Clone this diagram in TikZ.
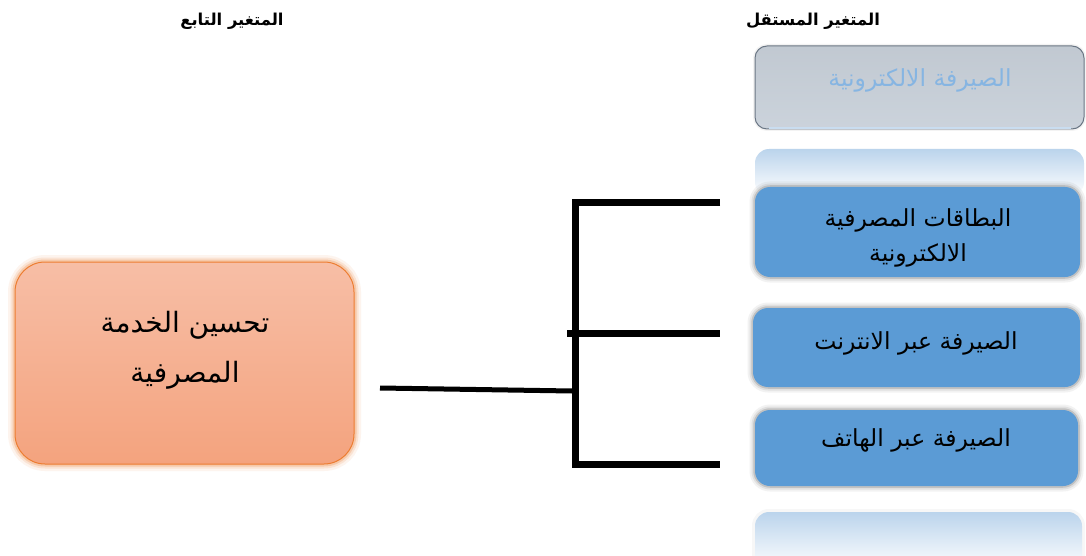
\documentclass[tikz,border=0pt]{standalone}
\usepackage{fontspec}
\newfontfamily\arabicfont[Script=Arabic]{DejaVu Sans}
\TeXXeTstate=1
\definecolor{boxblue}{HTML}{5B9BD5}
\definecolor{paleblue}{HTML}{BBD4EC}
\definecolor{greybox}{HTML}{C9D1DA}
\definecolor{greyedge}{HTML}{6A7684}
\definecolor{fadedtext}{HTML}{86B5E2}
\definecolor{peachtop}{HTML}{F7BEA6}
\definecolor{peachbot}{HTML}{F4A37E}
\definecolor{orangeedge}{HTML}{ED7D31}
\tikzset{
  greyglow/.style={
    preaction={draw=black!40, line width=11pt, opacity=0.12},
    preaction={draw=black!40, line width=7pt, opacity=0.20},
    preaction={draw=black!45, line width=3.5pt, opacity=0.35}},
  orangeglow/.style={
    preaction={draw=orangeedge, line width=14pt, opacity=0.08},
    preaction={draw=orangeedge, line width=9pt, opacity=0.14},
    preaction={draw=orangeedge, line width=5pt, opacity=0.25}},
  varbox/.style={rectangle, rounded corners=15pt, fill=boxblue, greyglow, inner sep=0pt},
  vartext/.style={font=\arabicfont\fontsize{23.5}{35}\selectfont, align=center, text=black},
  headtext/.style={font=\arabicfont\bfseries\fontsize{16.4}{18}\selectfont, text=black},
  bar/.style={draw=black, line width=7pt, line join=miter, line cap=butt},
  thinbar/.style={draw=black, line width=5pt, line cap=butt}
}
\begin{document}
\begin{tikzpicture}[x=1pt,y=-1pt]
\useasboundingbox (0,0) rectangle (1086,556);
\fill[white] (0,0) rectangle (1086,556);

% column headings
\node[headtext] (headdep) at (232,21) {\beginR المتغير التابع\endR};
\node[headtext] (headind) at (813,21) {\beginR المتغير المستقل\endR};

% faded reflection strips
\shade[top color=paleblue, bottom color=white, rounded corners=14pt]
  (755,196) -- (755,149) -- (1084,149) -- (1084,196) -- cycle;
\shade[top color=paleblue, bottom color=white, rounded corners=14pt,
  preaction={draw=black!30, line width=6pt, opacity=0.10}]
  (755,570) -- (755,512) -- (1082,512) -- (1082,570) -- cycle;

% greyed heading box of the independent variable
\node[rectangle, rounded corners=12pt, minimum width=329pt, minimum height=83pt,
  top color=greybox!96!black, bottom color=greybox!96!white, draw=greyedge, line width=1pt,
  preaction={draw=black!30, line width=4pt, opacity=0.15}]
  (ebank) at (919.5,87.5) {};
\draw[draw=paleblue!80!white, line width=2pt] ([xshift=-14pt,yshift=1.5pt]ebank.south east) -- ([xshift=14pt,yshift=1.5pt]ebank.south west);
\node[font=\arabicfont\fontsize{23.5}{26}\selectfont, text=fadedtext] (ebanktxt) at (920,80) {\beginR الصيرفة الالكترونية\endR};

% the three dimensions
\node[varbox, minimum width=325pt, minimum height=90pt] (cards) at (917.5,232) {};
\node[vartext] (cardstxt) at (918,237.5) {\beginR البطاقات المصرفية\endR\\\beginR الالكترونية\endR};

\node[varbox, minimum width=327pt, minimum height=79pt] (internet) at (916.5,347.5) {};
\node[vartext] (internettxt) at (916,343.5) {\beginR الصيرفة عبر الانترنت\endR};

\node[varbox, minimum width=323pt, minimum height=76pt] (phone) at (916.5,448) {};
\node[vartext] (phonetxt) at (916,440) {\beginR الصيرفة عبر الهاتف\endR};

% dependent variable
\node[rectangle, rounded corners=30pt, minimum width=339pt, minimum height=202pt,
  top color=peachtop, bottom color=peachbot, draw=orangeedge, line width=1pt, orangeglow]
  (service) at (184.5,363) {};
\node[font=\arabicfont\fontsize{28}{50}\selectfont, align=center] (servicetxt) at (185,350.5)
  {\beginR تحسين الخدمة\endR\\\beginR المصرفية\endR};

% connector bracket
\coordinate (stem) at (380,388);
\coordinate (join) at (572,391);
\coordinate (c1) at (575.5,202.5);
\coordinate (c3) at (575.5,464.5);
\coordinate (e1) at (720,202.5);
\coordinate (m0) at (567,333);
\coordinate (e2) at (720,333);
\coordinate (e3) at (720,464.5);
\draw[thinbar] (stem) -- (join);
\draw[bar] (e1) -- (c1) -- (c3) -- (e3);
\draw[bar] (m0) -- (e2);
\end{tikzpicture}
\end{document}
